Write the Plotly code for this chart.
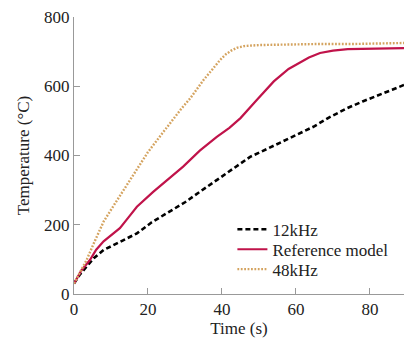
import plotly.graph_objects as go

t_12k = [0, 1.5, 3.4, 5.5, 8, 12.4, 17, 21, 25, 30, 34, 38.6, 43, 47.6, 52, 55.7, 60, 64.7, 69, 73.7, 78, 82.7, 86, 89.5]
T_12k = [30, 55, 79, 105, 127, 151, 175, 207, 233, 265, 295, 329, 360, 396, 418, 437, 458, 483, 510, 536, 556, 575, 590, 605]

t_ref = [0, 2, 4.3, 6, 8, 10, 12.4, 15, 17, 21.4, 26, 29.5, 34, 38.6, 42, 45, 49.4, 54, 58, 61, 63.5, 66.5, 70, 74, 80, 89.5]
T_ref = [30, 68, 98, 128, 152, 170, 190, 225, 252, 295, 336, 368, 414, 454, 480, 508, 560, 614, 650, 668, 683, 696, 703, 707, 709, 710]

t_48k = [0, 1.2, 3.4, 5.5, 8, 11, 14, 17, 20, 23, 26, 29, 31.4, 35, 37.5, 39.5, 41, 42.5, 44, 46, 50, 58, 66, 75, 83, 89.5]
T_48k = [30, 55, 98, 150, 209, 260, 310, 360, 410, 452, 494, 535, 565, 618, 650, 676, 692, 703, 711, 716, 719, 721, 722, 722, 724, 725]

x_ticks = [0, 20, 40, 60, 80]
y_ticks = [0, 200, 400, 600, 800]

serif = "Liberation Serif, Times New Roman, serif"
FS = 17

fig = go.Figure()
fig.add_trace(go.Scatter(x=t_12k, y=T_12k, mode="lines", name="12kHz", legend="legend",
                         line=dict(color="black", width=2.6, dash="5px,3px")))
fig.add_trace(go.Scatter(x=t_ref, y=T_ref, mode="lines", name="Reference model", legend="legend2",
                         line=dict(color="#C0134A", width=2.2)))
fig.add_trace(go.Scatter(x=t_48k, y=T_48k, mode="lines", name="48kHz", legend="legend3",
                         line=dict(color="#D4A35F", width=2.4, dash="1.8px,1.6px")))

axis_common = dict(showgrid=False, zeroline=False, showline=True, linecolor="#999999",
                   linewidth=1, ticks="inside", ticklen=6, tickcolor="#999999",
                   tickfont=dict(family=serif, size=FS, color="#222222"))

leg_common = dict(x=0.48, xanchor="left", yanchor="top", bgcolor="rgba(0,0,0,0)",
                  font=dict(family=serif, size=FS, color="#222222"), itemwidth=30)

fig.update_layout(
    width=404, height=338,
    margin=dict(l=74, r=0, t=17, b=44, autoexpand=False),
    paper_bgcolor="white", plot_bgcolor="white",
    font=dict(family=serif, size=FS, color="#222222"),
    xaxis=dict(range=[0, 89.2], tickvals=x_ticks, automargin=False,
               title=dict(text="Time (s)", font=dict(family=serif, size=FS), standoff=10),
               **axis_common),
    yaxis=dict(range=[0, 800], tickvals=y_ticks, automargin=False,
               title=dict(text="Temperature (°C)", font=dict(family=serif, size=FS), standoff=10),
               **axis_common),
    legend=dict(y=0.297, **leg_common),
    legend2=dict(y=0.225, **leg_common),
    legend3=dict(y=0.153, **leg_common),
    showlegend=True,
)

fig.write_html("out.html")
